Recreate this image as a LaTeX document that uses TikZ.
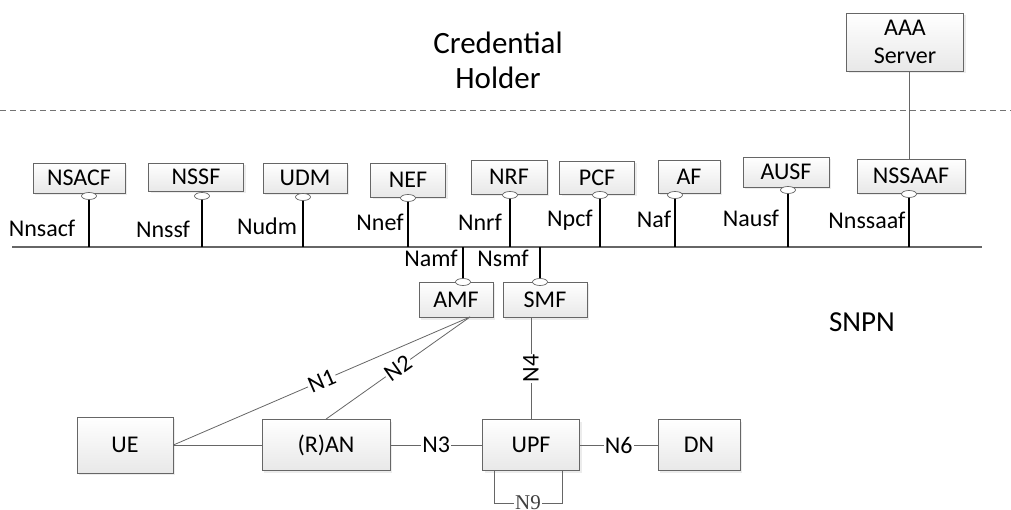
\documentclass[tikz,border=0pt]{standalone}
\usepackage{fontspec}
\setmainfont{Carlito}
\newfontfamily\nineserif{Liberation Serif}
\usetikzlibrary{shapes.geometric,shadows}
\tikzset{
  nfbox/.style 2 args={draw=black!60,line width=0.8pt,top color=white,bottom color=black!9,
    minimum width=#1,minimum height=#2,inner sep=0pt,
    drop shadow={opacity=0.15,shadow xshift=2pt,shadow yshift=-2pt},
    font=\fontsize{24}{26}\selectfont},
  port/.style={ellipse,draw=black!60,line width=0.7pt,fill=white,minimum width=15pt,minimum height=7pt,inner sep=0pt},
  ifline/.style={line width=1.6pt},
  iflabel/.style={font=\fontsize{24}{26}\selectfont,inner sep=0pt},
  nline/.style={draw=black!60,line width=0.8pt},
  nlabel/.style={font=\fontsize{24}{26}\selectfont,fill=white,inner sep=1pt}
}
\begin{document}
\begin{tikzpicture}[x=1pt,y=-1pt]
\useasboundingbox (0,0) rectangle (1011,510);
\node[align=center,font=\fontsize{31}{35}\selectfont] (holder) at (498,60) {Credential\\Holder};
\draw[black!55,line width=0.8pt,dash pattern=on 6pt off 4pt] (0,110) -- (1011,110);
\node[font=\fontsize{29}{30}\selectfont] (snpn) at (862,322) {SNPN};
\coordinate (busl) at (12,247);
\coordinate (busr) at (982,247);
\draw[black!60,line width=1.1pt] (busl) -- (busr);

\node[nfbox={92pt}{30pt}] (nsacf) at (79,178) {NSACF};
\node[nfbox={95pt}{28pt}] (nssf) at (196,177) {NSSF};
\node[nfbox={84pt}{30pt}] (udm) at (305,178) {UDM};
\node[nfbox={75pt}{34pt}] (nef) at (408,180) {NEF};
\node[nfbox={76pt}{34pt}] (nrf) at (509,177) {NRF};
\node[nfbox={75pt}{33pt}] (pcf) at (597,178) {PCF};
\node[nfbox={62pt}{33pt}] (af) at (689,177) {AF};
\node[nfbox={86pt}{30pt}] (ausf) at (786,172) {AUSF};
\node[nfbox={108pt}{34pt}] (nssaaf) at (911,176) {NSSAAF};
\node[nfbox={117pt}{58pt},align=center,font=\fontsize{24}{28}\selectfont] (aaa) at (905,42) {AAA\\Server};
\node[nfbox={74pt}{35pt}] (amf) at (456,300) {AMF};
\node[nfbox={84pt}{35pt}] (smf) at (545,300) {SMF};

\node[port] (nsacfp) at (89,196) {};
\node[port] (nssfp) at (202,196) {};
\node[port] (udmp) at (303,197) {};
\node[port] (nefp) at (408,198) {};
\node[port] (nrfp) at (510,195) {};
\node[port] (pcfp) at (600,195) {};
\node[port] (afp) at (675,195) {};
\node[port] (ausfp) at (788,190) {};
\node[port] (nssaafp) at (909,194) {};
\node[port] (amfp) at (463,282) {};
\node[port] (smfp) at (540,282) {};

\foreach \p in {nsacfp,nssfp,udmp,nefp,nrfp,pcfp,afp,ausfp,nssaafp}
  \draw[ifline] (\p.south) -- (\p.south |- busl);
\foreach \p in {amfp,smfp}
  \draw[ifline] (\p.north) -- (\p.north |- busl);
\draw[nline] (aaa.south -| nssaafp) -- (nssaaf.north -| nssaafp);

\node[iflabel] at (42,228) {Nnsacf};
\node[iflabel] at (163,229) {Nnssf};
\node[iflabel] at (267,226) {Nudm};
\node[iflabel] at (380,222) {Nnef};
\node[iflabel] at (480,222) {Nnrf};
\node[iflabel] at (570,220) {Npcf};
\node[iflabel] at (654,219) {Naf};
\node[iflabel] at (751,218) {Nausf};
\node[iflabel] at (867,220) {Nnssaaf};
\node[iflabel] at (431,258) {Namf};
\node[iflabel] at (503,258) {Nsmf};

\node[nfbox={96pt}{56pt}] (ue) at (125,445) {UE};
\node[nfbox={128pt}{51pt}] (ran) at (326,445) {(R)AN};
\node[nfbox={97pt}{51pt}] (upf) at (531,445) {UPF};
\node[nfbox={82pt}{51pt}] (dn) at (699,445) {DN};
\coordinate (amfj) at (470,317);

\draw[nline] (ue.east) -- node[nlabel,sloped] {N1} (amfj);
\draw[nline] (ran.north) -- node[nlabel,sloped] {N2} (amfj);
\draw[nline] (ue.east) -- (ran.west);
\draw[nline] (ran.east) -- node[nlabel] {N3} (upf.west);
\draw[nline] (smf.south -| upf.north) -- node[nlabel,rotate=90] {N4} (upf.north);
\draw[nline] (upf.east) -- node[nlabel] {N6} (dn.west);
\draw[nline] ([xshift=-37pt]upf.south) -- ++(0,32) -| node[pos=0.25,fill=white,inner sep=1pt,text=black!75,font=\nineserif\fontsize{21}{22}\selectfont] {N9} ([xshift=31pt]upf.south);
\end{tikzpicture}
\end{document}
